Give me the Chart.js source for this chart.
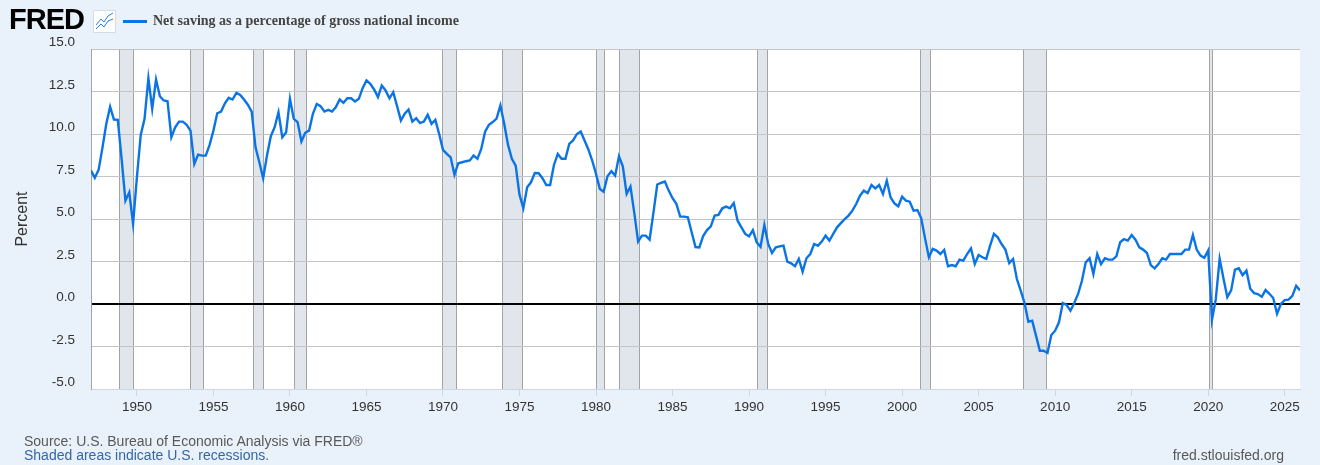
<!DOCTYPE html>
<html>
<head>
<meta charset="utf-8">
<script src="https://cdn.jsdelivr.net/npm/chart.js@4.4.1/dist/chart.umd.min.js"></script>
<style>
  html, body { margin: 0; padding: 0; background: #e9f1fa; }
  #wrap { position: relative; width: 1320px; height: 465px; overflow: hidden; }
  #chartBox { position: absolute; left: 0; top: 0; width: 1320px; height: 465px; }
  .txt { position: absolute; white-space: nowrap; font-family: 'Liberation Sans', Arial, sans-serif; }
  #logo { left: 9px; top: 5px; font-size: 29px; line-height: 29px; font-weight: 900; letter-spacing: -1px; color: #000; }
  #icon { position: absolute; left: 93px; top: 10px; }
  #legLine { position: absolute; left: 123px; top: 20px; width: 24px; height: 3px; background: #0b74e5; }
  #legText { left: 153px; top: 14px; font-family: 'Liberation Serif', 'Times New Roman', serif; font-weight: bold; font-size: 14px; line-height: 14px; color: #444; }
  #source { left: 24px; top: 434px; font-size: 14px; line-height: 14px; color: #595959; }
  #shaded { left: 24px; top: 448px; font-size: 14px; line-height: 14px; color: #3566a8; }
  #site { right: 36px; top: 448px; font-size: 14px; line-height: 14px; color: #595959; }
</style>
</head>
<body>
<div id="wrap">
  <div id="chartBox"><canvas id="savingChart"></canvas></div>
  <div class="txt" id="logo">FRED</div>
  <svg id="icon" width="23" height="23" viewBox="0 0 23 23">
    <rect x="0.5" y="0.5" width="22" height="22" fill="#fff" stroke="#d6dce4"/>
    <polyline points="3,15 8,9 11,12 15,6 20,3" fill="none" stroke="#2a7be0" stroke-width="1"/>
    <polyline points="3,19 8,14 11,17 15,11 20,9" fill="none" stroke="#2a7be0" stroke-width="1"/>
  </svg>
  <div id="legLine"></div>
  <div class="txt" id="legText">Net saving as a percentage of gross national income</div>
  <div class="txt" id="source">Source: U.S. Bureau of Economic Analysis via FRED®</div>
  <div class="txt" id="shaded">Shaded areas indicate U.S. recessions.</div>
  <div class="txt" id="site">fred.stlouisfed.org</div>
</div>
<script>
// quarterly values, first one is 1947 Q1
const startYear = 1947;
const saving1940s = [7.85, 7.42, 7.9, 9.2, 10.6, 11.6, 10.85, 10.83, 8.54, 6.08, 6.57, 4.71];
const saving1950s = [
  7.46, 9.95, 10.89, 13.28, 11.48, 13.2, 12.22, 11.97, 11.93, 9.81, 10.4, 10.73,
  10.73, 10.54, 10.2, 8.24, 8.79, 8.73, 8.73, 9.36, 10.2, 11.22, 11.32, 11.81,
  12.13, 12.03, 12.42, 12.3, 12.03, 11.72, 11.32, 9.22, 8.34, 7.4, 8.73, 9.87,
  10.4, 11.28, 9.81, 10.1
];
const saving1960s = [
  12.07, 10.89, 10.7, 9.56, 10.07, 10.2, 11.19, 11.77, 11.64, 11.32, 11.42, 11.32,
  11.58, 12.03, 11.83, 12.1, 12.1, 11.91, 12.07, 12.7, 13.15, 12.95, 12.62, 12.17,
  12.85, 12.56, 12.1, 12.46, 11.64, 10.79, 11.19, 11.44, 10.73, 10.93, 10.64, 10.73,
  11.13, 10.6, 10.83, 10.0
];
const saving1970s = [
  9.07, 8.83, 8.63, 7.6, 8.28, 8.34, 8.4, 8.44, 8.73, 8.54, 9.12, 10.14,
  10.54, 10.7, 10.9, 11.68, 10.6, 9.36, 8.54, 8.14, 6.42, 5.63, 6.87, 7.16,
  7.71, 7.69, 7.4, 7.0, 7.0, 8.18, 8.83, 8.54, 8.54, 9.42, 9.62, 10.0,
  10.14, 9.62, 9.09, 8.44
];
const saving1980s = [
  7.65, 6.77, 6.61, 7.52, 7.81, 7.55, 8.69, 8.1, 6.48, 6.91, 5.36, 3.67,
  4.02, 4.02, 3.79, 5.36, 7.03, 7.12, 7.2, 6.67, 6.22, 5.89, 5.14, 5.14,
  5.1, 4.22, 3.35, 3.33, 4.0, 4.35, 4.57, 5.2, 5.24, 5.63, 5.73, 5.63,
  5.94, 4.9, 4.51, 4.12
];
const saving1990s = [
  3.98, 4.35, 3.63, 3.37, 4.65, 3.53, 3.0, 3.33, 3.39, 3.43, 2.49, 2.39,
  2.22, 2.65, 1.9, 2.69, 2.94, 3.53, 3.43, 3.67, 4.02, 3.73, 4.12, 4.51,
  4.76, 5.0, 5.2, 5.49, 5.88, 6.37, 6.67, 6.53, 7.0, 6.8, 7.0, 6.47,
  7.25, 6.27, 5.92, 5.75
];
const saving2000s = [
  6.31, 6.08, 6.02, 5.49, 5.53, 5.04, 3.86, 2.75, 3.24, 3.14, 2.94, 3.18,
  2.22, 2.29, 2.22, 2.61, 2.55, 2.94, 3.27, 2.35, 2.88, 2.75, 2.65, 3.43,
  4.12, 3.92, 3.53, 3.2, 2.41, 2.65, 1.47, 0.78, 0.06, -1.04, -0.98, -1.86,
  -2.75, -2.75, -2.88, -1.82
];
const saving2010s = [
  -1.57, -1.08, 0.06, -0.06, -0.39, 0.06, 0.59, 1.37, 2.45, 2.69, 1.76, 2.94,
  2.35, 2.69, 2.61, 2.61, 2.8, 3.63, 3.82, 3.73, 4.06, 3.78, 3.33, 3.2,
  3.0, 2.29, 2.1, 2.35, 2.69, 2.61, 2.94, 2.94, 2.94, 2.94, 3.2, 3.2,
  4.06, 3.2, 2.85, 2.72
];
const saving2020s = [
  3.15, -0.92, 0.3, 2.65, 1.5, 0.4, 0.8, 2.02, 2.1, 1.7, 1.96, 0.9,
  0.64, 0.58, 0.42, 0.82, 0.6, 0.35, -0.57, 0.0, 0.23, 0.26, 0.48, 1.07,
  0.8
];

// recessions as decimal years (peak month, trough month)
const recStart = [1948.83, 1953.5, 1957.58, 1960.25, 1969.92, 1973.83, 1980.0, 1981.5, 1990.5, 2001.17, 2007.92, 2020.08];
const recEnd   = [1949.75, 1954.33, 1958.25, 1961.08, 1970.83, 1975.17, 1980.5, 1982.83, 1991.17, 2001.83, 2009.42, 2020.25];

const yearTicks = [1950, 1955, 1960, 1965, 1970, 1975, 1980, 1985, 1990, 1995, 2000, 2005, 2010, 2015, 2020, 2025];
const yTicks = [-5, -2.5, 0, 2.5, 5, 7.5, 10, 12.5, 15];

const saving = [].concat(saving1940s, saving1950s, saving1960s, saving1970s,
  saving1980s, saving1990s, saving2000s, saving2010s, saving2020s);
const points = saving.map((v, i) => ({ x: startYear + i / 4, y: v }));
const lastX = startYear + (saving.length - 1) / 4;

const recessionBands = {
  id: 'recessionBands',
  beforeDraw(chart) {
    const { ctx, chartArea: a, scales: { x } } = chart;
    ctx.save();
    ctx.fillStyle = '#fff';
    ctx.fillRect(a.left, a.top, a.right - a.left, a.bottom - a.top);
    ctx.strokeStyle = '#a3a3a3';
    ctx.lineWidth = 1;
    recStart.forEach((s, i) => {
      const x0 = Math.round(x.getPixelForValue(s));
      const x1 = Math.round(x.getPixelForValue(recEnd[i]));
      ctx.fillStyle = '#e1e6ed';
      ctx.fillRect(x0, a.top, x1 - x0, a.bottom - a.top);
      ctx.beginPath();
      ctx.moveTo(x0 + 0.5, a.top); ctx.lineTo(x0 + 0.5, a.bottom);
      ctx.moveTo(x1 + 0.5, a.top); ctx.lineTo(x1 + 0.5, a.bottom);
      ctx.stroke();
    });
    ctx.restore();
  }
};

new Chart(document.getElementById('savingChart'), {
  type: 'line',
  data: {
    datasets: [{
      label: 'Net saving as a percentage of gross national income',
      data: points,
      borderColor: '#0b74e5',
      borderWidth: 2.4,
      pointRadius: 0,
      tension: 0,
      fill: false,
    }],
  },
  options: {
    responsive: true,
    maintainAspectRatio: false,
    animation: false,
    layout: { padding: { top: 49, right: 20, bottom: 0, left: 0 } },
    plugins: { legend: { display: false }, tooltip: { enabled: false } },
    scales: {
      x: {
        type: 'linear',
        min: startYear,
        max: lastX,
        afterBuildTicks: (s) => { s.ticks = yearTicks.map(v => ({ value: v })); },
        afterFit: (s) => { s.height = 76; },
        ticks: {
          autoSkip: false, maxRotation: 0, padding: 3,
          color: '#333', font: { family: "'Liberation Sans', Arial", size: 13.5 },
          callback: (v) => String(v),
        },
        grid: { drawOnChartArea: false, drawTicks: true, tickLength: 7, color: '#ccd6eb' },
        border: { display: true, color: '#ccd6eb', width: 1 },
      },
      y: {
        min: -5,
        max: 15,
        afterBuildTicks: (s) => { s.ticks = yTicks.map(v => ({ value: v })); },
        afterFit: (s) => { s.width = 91; },
        ticks: {
          padding: 16, labelOffset: -6.5,
          color: '#333', font: { family: "'Liberation Sans', Arial", size: 13.5 },
          callback: (v) => Number(v).toFixed(1),
        },
        grid: {
          drawTicks: false,
          color: (c) => c.tick.value === 0 ? '#000' : (c.tick.value === -5 ? '#ccd6eb' : '#c4c4c4'),
          lineWidth: (c) => c.tick.value === 0 ? 2 : 1,
        },
        border: { display: true, color: '#a3a3a3', width: 1 },
        title: {
          display: true, text: 'Percent', color: '#333',
          font: { family: "'Liberation Sans', Arial", size: 16 },
          padding: { top: 13, bottom: 0 },
        },
      },
    },
  },
  plugins: [recessionBands],
});
</script>
</body>
</html>
